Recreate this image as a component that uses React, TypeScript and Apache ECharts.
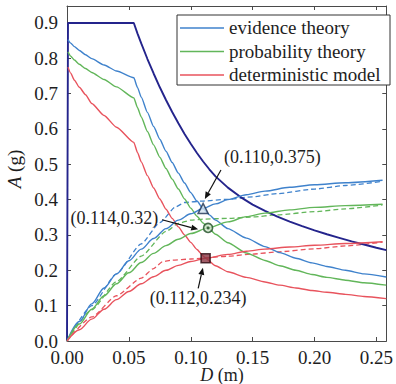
import React, { useEffect, useRef } from "react";
import * as echarts from "echarts";

// ---------------- data ----------------
const xTickValues = [0, 0.05, 0.1, 0.15, 0.2, 0.25];
const yTickValues = [0, 0.1, 0.2, 0.3, 0.4, 0.5, 0.6, 0.7, 0.8, 0.9];

// design demand spectrum (navy)
const designSpectrum: number[][] = [
  [0, 0], [0.0008, 0.9], [0.054, 0.9], [0.057, 0.87], [0.06, 0.842], [0.065, 0.798], [0.07, 0.757],
  [0.075, 0.718], [0.08, 0.682], [0.085, 0.648], [0.09, 0.616], [0.095, 0.586], [0.1, 0.558],
  [0.105, 0.532], [0.11, 0.508], [0.115, 0.486], [0.12, 0.466], [0.13, 0.434], [0.14, 0.408],
  [0.15, 0.386], [0.16, 0.368], [0.17, 0.352], [0.18, 0.338], [0.19, 0.325], [0.2, 0.313],
  [0.21, 0.302], [0.22, 0.292], [0.23, 0.282], [0.24, 0.273], [0.25, 0.264], [0.258, 0.257],
];

// demand curves (descending)
const evidenceDemand: number[][] = [
  [0.0008, 0.853], [0.003, 0.843], [0.006, 0.833], [0.01, 0.822], [0.015, 0.81], [0.02, 0.799],
  [0.03, 0.781], [0.04, 0.764], [0.054, 0.745], [0.057, 0.717], [0.06, 0.69], [0.065, 0.647],
  [0.07, 0.607], [0.075, 0.571], [0.08, 0.537], [0.085, 0.505], [0.09, 0.475], [0.095, 0.447],
  [0.1, 0.42], [0.105, 0.396], [0.11, 0.375], [0.115, 0.357], [0.12, 0.342], [0.13, 0.318],
  [0.145, 0.291], [0.16, 0.267], [0.172, 0.25], [0.185, 0.234], [0.198, 0.221], [0.21, 0.211],
  [0.225, 0.2], [0.24, 0.19], [0.258, 0.181],
];
const probabilityDemand: number[][] = [
  [0.0008, 0.818], [0.003, 0.806], [0.006, 0.795], [0.01, 0.783], [0.015, 0.771], [0.02, 0.76],
  [0.03, 0.74], [0.04, 0.719], [0.054, 0.688], [0.057, 0.66], [0.06, 0.634], [0.065, 0.593],
  [0.07, 0.555], [0.075, 0.52], [0.08, 0.488], [0.085, 0.458], [0.09, 0.43], [0.095, 0.402],
  [0.1, 0.376], [0.105, 0.353], [0.11, 0.334], [0.114, 0.32], [0.12, 0.302], [0.13, 0.278],
  [0.145, 0.249], [0.16, 0.228], [0.172, 0.213], [0.185, 0.2], [0.198, 0.188], [0.21, 0.18],
  [0.225, 0.172], [0.24, 0.165], [0.258, 0.158],
];
const deterministicDemand: number[][] = [
  [0.0008, 0.775], [0.003, 0.758], [0.006, 0.738], [0.01, 0.718], [0.015, 0.697], [0.02, 0.672],
  [0.03, 0.638], [0.04, 0.605], [0.054, 0.562], [0.057, 0.533], [0.06, 0.507], [0.065, 0.468],
  [0.07, 0.433], [0.075, 0.402], [0.08, 0.373], [0.085, 0.347], [0.09, 0.323], [0.095, 0.3],
  [0.1, 0.279], [0.105, 0.259], [0.11, 0.241], [0.112, 0.234], [0.12, 0.213], [0.13, 0.196],
  [0.145, 0.18], [0.16, 0.167], [0.172, 0.158], [0.185, 0.15], [0.198, 0.143], [0.21, 0.138],
  [0.225, 0.132], [0.24, 0.126], [0.258, 0.12],
];

// capacity curves (rising), solid
const evidenceCapacity: number[][] = [
  [0, 0], [0.01, 0.055], [0.02, 0.105], [0.03, 0.15], [0.04, 0.19], [0.05, 0.227], [0.06, 0.26],
  [0.07, 0.29], [0.08, 0.318], [0.09, 0.342], [0.1, 0.36], [0.11, 0.375], [0.12, 0.388],
  [0.13, 0.4], [0.145, 0.414], [0.16, 0.424], [0.18, 0.435], [0.2, 0.442], [0.225, 0.448], [0.255, 0.455],
];
const probabilityCapacity: number[][] = [
  [0, 0], [0.01, 0.048], [0.02, 0.09], [0.03, 0.128], [0.04, 0.162], [0.05, 0.193], [0.06, 0.222],
  [0.07, 0.248], [0.08, 0.27], [0.09, 0.288], [0.1, 0.304], [0.114, 0.32], [0.13, 0.337],
  [0.145, 0.352], [0.16, 0.362], [0.18, 0.371], [0.2, 0.378], [0.225, 0.383], [0.255, 0.387],
];
const deterministicCapacity: number[][] = [
  [0, 0], [0.01, 0.032], [0.02, 0.062], [0.03, 0.09], [0.04, 0.117], [0.05, 0.14], [0.06, 0.162],
  [0.07, 0.182], [0.08, 0.2], [0.09, 0.214], [0.1, 0.225], [0.112, 0.234], [0.13, 0.245],
  [0.145, 0.254], [0.16, 0.26], [0.18, 0.266], [0.2, 0.271], [0.225, 0.276], [0.255, 0.281],
];

// capacity curves (rising), dashed
const evidenceCapacityDashed: number[][] = [
  [0, 0], [0.02, 0.1], [0.04, 0.19], [0.06, 0.275], [0.075, 0.335], [0.088, 0.38], [0.095, 0.392],
  [0.11, 0.396], [0.13, 0.401], [0.15, 0.408], [0.17, 0.417], [0.2, 0.43], [0.225, 0.44], [0.255, 0.452],
];
const probabilityCapacityDashed: number[][] = [
  [0, 0], [0.02, 0.088], [0.04, 0.168], [0.06, 0.24], [0.08, 0.31], [0.09, 0.333], [0.1, 0.342],
  [0.11, 0.345], [0.13, 0.347], [0.15, 0.351], [0.17, 0.357], [0.2, 0.366], [0.225, 0.374], [0.255, 0.385],
];
const deterministicCapacityDashed: number[][] = [
  [0, 0], [0.02, 0.068], [0.04, 0.128], [0.06, 0.178], [0.07, 0.205], [0.077, 0.224], [0.085, 0.229],
  [0.1, 0.232], [0.115, 0.236], [0.13, 0.24], [0.15, 0.246], [0.17, 0.252], [0.2, 0.261],
  [0.225, 0.269], [0.255, 0.28],
];

// performance points
const performancePoints = [
  { name: "evidence theory", d: 0.11, a: 0.375 },
  { name: "probability theory", d: 0.114, a: 0.32 },
  { name: "deterministic model", d: 0.112, a: 0.234 },
];

// annotations: text position, arrow start, arrow tip (data coordinates)
const annotationTexts = ["(0.110,0.375)", "(0.114,0.32)", "(0.112,0.234)"];
const annotationTextPos = [[0.166, 0.521], [0.0383, 0.349], [0.106, 0.121]];
const annotationArrowFrom = [[0.1244, 0.484], [0.0768, 0.343], [0.106, 0.149]];
const annotationArrowTo = [[0.1114, 0.402], [0.106, 0.316], [0.1098, 0.207]];

const legendNames = ["evidence theory", "probability theory", "deterministic model"];

// ---------------- styles ----------------
const NAVY = "#24248c";
const BLUE = "#3f82cc";
const GREEN = "#62b65a";
const RED = "#e8535d";
const legendColors = [BLUE, GREEN, RED];
const FONT = "Liberation Serif";
const TEXT = "#1e1e1e";
const AXIS = "#4a4a4a";

const lineSeries = (
  name: string,
  data: number[][],
  color: string,
  dashed = false,
  width = 1.4,
  smooth: number | boolean = 0.2
) => ({
  type: "line",
  name,
  data,
  showSymbol: false,
  symbol: "none",
  smooth,
  smoothMonotone: "x",
  lineStyle: { color, width, type: dashed ? [5, 3] : "solid" },
  itemStyle: { color },
  silent: true,
  z: dashed ? 2 : 3,
});

export default function App() {
  const ref = useRef<HTMLDivElement>(null);

  useEffect(() => {
    if (!ref.current) return;
    const chart = echarts.init(ref.current, undefined, { renderer: "svg" });

    const xFmt = (v: number) =>
      Math.abs(v / 0.05 - Math.round(v / 0.05)) < 1e-6 ? v.toFixed(2) : "";
    const yFmt = (v: number) =>
      Math.abs(v / 0.1 - Math.round(v / 0.1)) < 1e-6 ? v.toFixed(1) : "";

    const axisCommon = {
      type: "value",
      axisLine: { show: true, onZero: false, lineStyle: { color: AXIS, width: 1 } },
      axisTick: { show: true, inside: true, length: 4, lineStyle: { color: AXIS } },
      splitLine: { show: false },
    };

    const option: any = {
      animation: false,
      backgroundColor: "#ffffff",
      textStyle: { fontFamily: FONT },
      grid: { left: 67, right: 4, top: 6, bottom: 43 },
      xAxis: [
        {
          ...axisCommon,
          position: "bottom",
          min: xTickValues[0],
          max: 0.258,
          interval: 0.05,
          axisLabel: { formatter: xFmt, fontFamily: FONT, fontSize: 19, color: TEXT, margin: 7 },
        },
        {
          ...axisCommon,
          position: "top",
          min: xTickValues[0],
          max: 0.258,
          interval: 0.05,
          axisLabel: { show: false },
        },
      ],
      yAxis: [
        {
          ...axisCommon,
          position: "left",
          min: yTickValues[0],
          max: 0.948,
          interval: 0.1,
          axisLabel: { formatter: yFmt, fontFamily: FONT, fontSize: 19, color: TEXT, margin: 9 },
        },
        {
          ...axisCommon,
          position: "right",
          min: yTickValues[0],
          max: 0.948,
          interval: 0.1,
          axisLabel: { show: false },
        },
      ],
      series: [
        lineSeries("design spectrum", designSpectrum, NAVY, false, 1.9, false),
        lineSeries("evidence theory", evidenceDemand, BLUE),
        lineSeries("probability theory", probabilityDemand, GREEN),
        lineSeries("deterministic model", deterministicDemand, RED),
        lineSeries("evidence capacity", evidenceCapacity, BLUE, false, 1.4, 0.3),
        lineSeries("probability capacity", probabilityCapacity, GREEN, false, 1.4, 0.3),
        lineSeries("deterministic capacity", deterministicCapacity, RED, false, 1.4, 0.3),
        lineSeries("evidence capacity (dashed)", evidenceCapacityDashed, BLUE, true, 1.3, 0.2),
        lineSeries("probability capacity (dashed)", probabilityCapacityDashed, GREEN, true, 1.3, 0.2),
        lineSeries("deterministic capacity (dashed)", deterministicCapacityDashed, RED, true, 1.3, 0.2),
        {
          type: "scatter",
          name: "performance points",
          silent: true,
          z: 10,
          data: [
            {
              value: [performancePoints[0].d, performancePoints[0].a],
              symbol: "triangle",
              symbolSize: 10,
              itemStyle: { color: "#d2e2f0", borderColor: "#1a2f50", borderWidth: 1.6 },
            },
            {
              value: [performancePoints[1].d, performancePoints[1].a],
              symbol: "circle",
              symbolSize: 9,
              itemStyle: { color: "#cfe6cb", borderColor: "#1b4a22", borderWidth: 1.6 },
            },
            {
              value: [performancePoints[2].d, performancePoints[2].a],
              symbol: "rect",
              symbolSize: 9,
              itemStyle: { color: "#8a3442", borderColor: "#2e0a12", borderWidth: 1.6 },
            },
          ],
        },
        {
          type: "scatter",
          name: "circle dot",
          silent: true,
          z: 11,
          symbol: "circle",
          symbolSize: 3,
          itemStyle: { color: "#1b4a22" },
          data: [[performancePoints[1].d, performancePoints[1].a]],
        },
      ],
    };

    chart.setOption(option);

    const px = (p: number[]) => chart.convertToPixel({ xAxisIndex: 0, yAxisIndex: 0 }, p) as number[];

    const graphics: any[] = [];
    // annotations
    annotationTexts.forEach((t, i) => {
      const tp = px(annotationTextPos[i]);
      graphics.push({
        type: "text",
        x: tp[0],
        y: tp[1],
        z: 20,
        style: { text: t, fill: TEXT, fontFamily: FONT, fontSize: 18, align: "center", verticalAlign: "middle" },
      });
      const a = px(annotationArrowFrom[i]);
      const b = px(annotationArrowTo[i]);
      const dx = b[0] - a[0];
      const dy = b[1] - a[1];
      const len = Math.hypot(dx, dy);
      const ux = dx / len;
      const uy = dy / len;
      const hl = 7;
      const hw = 3;
      const base = [b[0] - ux * hl, b[1] - uy * hl];
      graphics.push({
        type: "line",
        z: 20,
        shape: { x1: a[0], y1: a[1], x2: base[0], y2: base[1] },
        style: { stroke: "#111", lineWidth: 1.2 },
      });
      graphics.push({
        type: "polygon",
        z: 20,
        shape: {
          points: [
            [b[0], b[1]],
            [base[0] - uy * hw, base[1] + ux * hw],
            [base[0] + uy * hw, base[1] - ux * hw],
          ],
        },
        style: { fill: "#111" },
      });
    });

    // legend
    const lgLeft = 177;
    const lgTop = 15;
    graphics.push({
      type: "rect",
      z: 30,
      shape: { x: lgLeft, y: lgTop, width: 213, height: 70 },
      style: { fill: "#ffffff", stroke: "#333333", lineWidth: 1 },
    });
    legendNames.forEach((n, i) => {
      const y = lgTop + 13 + i * 23.5;
      graphics.push({
        type: "line",
        z: 31,
        shape: { x1: lgLeft + 3, y1: y, x2: lgLeft + 47, y2: y },
        style: { stroke: legendColors[i], lineWidth: 1.5 },
      });
      graphics.push({
        type: "text",
        z: 31,
        x: lgLeft + 52,
        y: y - 0.5,
        style: { text: n, fill: TEXT, fontFamily: FONT, fontSize: 19, align: "left", verticalAlign: "middle" },
      });
    });

    // axis names
    const richItalic = { i: { fontStyle: "italic", fontFamily: FONT, fontSize: 19, fill: TEXT } };
    graphics.push({
      type: "text",
      z: 20,
      x: 14,
      y: 169,
      rotation: Math.PI / 2,
      style: {
        text: "{i|A} (g)",
        fill: TEXT,
        fontFamily: FONT,
        fontSize: 19,
        align: "center",
        verticalAlign: "middle",
        rich: richItalic,
      },
    });
    graphics.push({
      type: "text",
      z: 20,
      x: 222,
      y: 375,
      style: {
        text: "{i|D} (m)",
        fill: TEXT,
        fontFamily: FONT,
        fontSize: 18,
        align: "center",
        verticalAlign: "middle",
        rich: { i: { fontStyle: "italic", fontFamily: FONT, fontSize: 18, fill: TEXT } },
      },
    });

    chart.setOption({ graphic: graphics });

    return () => chart.dispose();
  }, []);

  return (
    <div
      ref={ref}
      style={{ position: "fixed", left: 0, top: 0, width: 396, height: 384, background: "#fff" }}
    />
  );
}
